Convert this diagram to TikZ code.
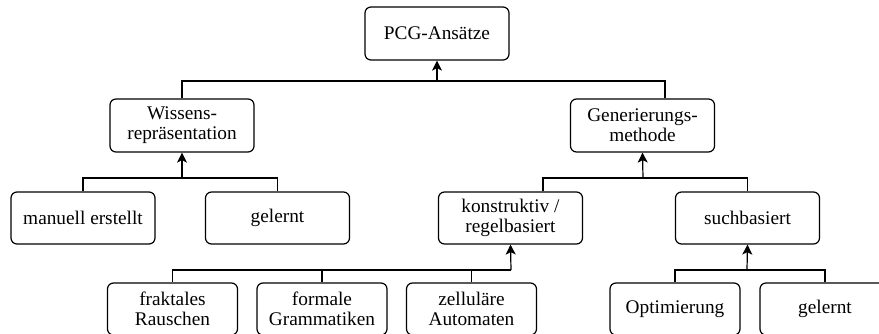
\documentclass[tikz,border=0pt]{standalone}
\usepackage{fontspec}
\setmainfont{Liberation Serif}
\newfontfamily\boxfont{Liberation Serif}
\usetikzlibrary{arrows.meta}
\begin{document}
\begin{tikzpicture}[x=1pt,y=-1pt,
  box/.style={draw,line width=1.2pt,rounded corners=6pt,align=center,inner sep=0pt,
    minimum height=52pt,font=\boxfont\fontsize{19.3}{20}\selectfont},
  bigbox/.style={box,minimum width=144pt},
  smallbox/.style={box,minimum width=130pt},
  link/.style={line width=1.2pt},
  uplink/.style={link,-{Stealth[length=10pt,width=10pt,inset=2.5pt]}}]
\useasboundingbox (0,0) rectangle (879,333);
\clip (0,0) rectangle (879,333);

% boxes
\node[bigbox,minimum height=53pt] (top) at (437,33.5) {PCG-Ansätze};
\node[bigbox,minimum height=53pt] (wiss) at (182,125.5) {Wissens-\\repräsentation};
\node[bigbox,minimum height=53pt] (gen) at (642.5,125.5) {Generierungs-\\methode};
\node[bigbox] (man) at (83,218) {manuell erstellt};
\node[bigbox] (gelA) at (277.5,218) {gelernt};
\node[bigbox] (kon) at (510.5,218) {konstruktiv /\\regelbasiert};
\node[bigbox] (such) at (747.5,218) {suchbasiert};
\node[smallbox] (fra) at (172.5,309) {fraktales\\Rauschen};
\node[smallbox] (form) at (322,309) {formale\\Grammatiken};
\node[smallbox] (zell) at (471.5,309) {zelluläre\\Automaten};
\node[smallbox] (opt) at (675,309) {Optimierung};
\node[smallbox] (gelB) at (825,309) {gelernt};

% junction points of the buses
\coordinate (b1) at (437,81);
\coordinate (b2) at (182,178);
\coordinate (b3) at (643,178);
\coordinate (b4) at (511,270);
\coordinate (b5) at (747,270);

% level 1
\draw[link] (wiss.north) |- (b1);
\draw[link] ([xshift=22.5pt]gen.north) |- (b1);
\draw[uplink] (b1) -- (top.south);

% level 2
\draw[link] (man.north) |- (b2);
\draw[link] (gelA.north) |- (b2);
\draw[uplink] (b2) -- (wiss.south);
\draw[link] ([xshift=32.5pt]kon.north) |- (b3);
\draw[link] (such.north) |- (b3);
\draw[uplink] (b3) -- (gen.south);

% level 3
\draw[link] (fra.north) |- (b4);
\draw[link] (form.north) |- (b4);
\draw[link] (zell.north) |- (b4);
\draw[uplink] (b4) -- (kon.south);
\draw[link] (opt.north) |- (b5);
\draw[link] (gelB.north) |- (b5);
\draw[uplink] (b5) -- (such.south);
\end{tikzpicture}
\end{document}
